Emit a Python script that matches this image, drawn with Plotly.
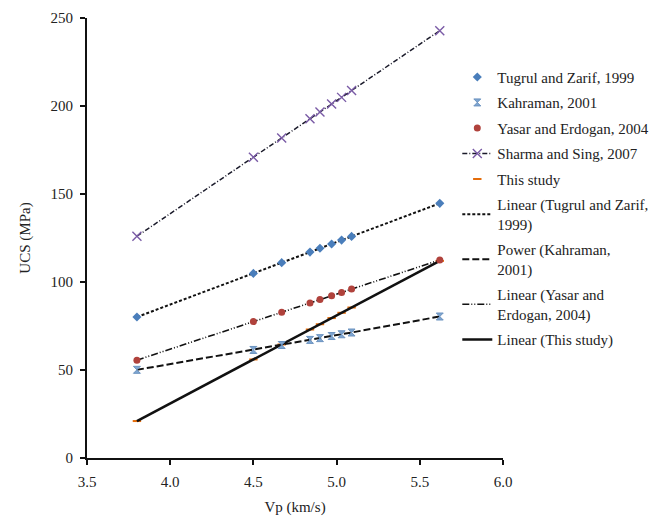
import plotly.graph_objects as go

# P-wave velocity (km/s) shared by all data sets
vp = [3.8, 4.5, 4.67, 4.84, 4.9, 4.97, 5.03, 5.09, 5.62]

# Uniaxial compressive strength (MPa)
ucs_tugrul = [80.1, 104.9, 111.0, 117.0, 119.2, 121.6, 123.8, 125.9, 144.7]
ucs_kahraman = [50.1, 61.4, 64.2, 67.1, 68.1, 69.3, 70.3, 71.3, 80.4]
ucs_yasar = [55.6, 77.5, 82.8, 88.1, 90.0, 92.2, 94.1, 96.0, 112.5]
ucs_sharma = [126.0, 170.9, 181.8, 192.7, 196.6, 201.1, 204.9, 208.8, 242.8]
ucs_this_study = [21.0, 56.0, 64.5, 73.0, 76.0, 79.5, 82.5, 85.5, 112.0]

x_ticks = [3.5, 4.0, 4.5, 5.0, 5.5, 6.0]
y_ticks = [0, 50, 100, 150, 200, 250]

FONT = "Liberation Serif, Times New Roman, serif"
FS = 15

fig = go.Figure()

# this study's points sit underneath its own trend line
fig.add_trace(go.Scatter(
    x=vp, y=ucs_this_study, mode="markers", name="This study",
    legendgroup="ts", legendrank=5,
    marker=dict(symbol="line-ew-open", size=6, color="#E46C0A",
                line=dict(color="#E46C0A", width=2)),
))

# trend lines
trends = [
    ("Linear (Tugrul and Zarif,<br>1999)", ucs_tugrul, "3px,2px", 2.0, 6),
    ("Power (Kahraman,<br>2001)", ucs_kahraman, "7px,3px", 2.0, 7),
    ("Linear (Yasar and<br>Erdogan, 2004)", ucs_yasar, "7px,2px,1px,2px,1px,2px", 1.6, 8),
    ("Linear (This study)", ucs_this_study, "solid", 2.6, 9),
]
for name, ys, dash, w, rank in trends:
    fig.add_trace(go.Scatter(
        x=vp, y=ys, mode="lines", name=name, legendgroup=name, legendrank=rank,
        line=dict(color="#111111", width=w, dash=dash),
    ))

# published data sets
fig.add_trace(go.Scatter(
    x=vp, y=ucs_tugrul, mode="markers", name="Tugrul and Zarif, 1999",
    legendgroup="tz", legendrank=1,
    marker=dict(symbol="diamond", size=7, color="#4A7EBB"),
))
fig.add_trace(go.Scatter(
    x=vp, y=ucs_kahraman, mode="markers", name="Kahraman, 2001",
    legendgroup="ka", legendrank=2,
    marker=dict(symbol="hourglass", size=7, color="#7FA6D1",
                line=dict(color="#6C93C0", width=1)),
))
fig.add_trace(go.Scatter(
    x=vp, y=ucs_yasar, mode="markers", name="Yasar and Erdogan, 2004",
    legendgroup="ye", legendrank=3,
    marker=dict(symbol="circle", size=7, color="#B0423C"),
))
fig.add_trace(go.Scatter(
    x=vp, y=ucs_sharma, mode="lines+markers", name="Sharma and Sing, 2007",
    legendgroup="ss", legendrank=4,
    line=dict(color="#1a1a2a", width=1.5, dash="5px,2px,1px,2px"),
    marker=dict(symbol="x-thin-open", size=9, color="#7A5BA6",
                line=dict(color="#7A5BA6", width=1.4)),
))

axis_common = dict(
    showgrid=False, zeroline=False, showline=True, linecolor="#111111",
    linewidth=2, ticks="outside", ticklen=5, tickwidth=1.5, tickcolor="#111111",
    tickfont=dict(family=FONT, size=FS, color="#222222"),
    automargin=False,
)

fig.update_layout(
    width=665, height=516,
    margin=dict(l=87, r=161, t=18, b=58),
    paper_bgcolor="white", plot_bgcolor="white",
    font=dict(family=FONT, size=FS, color="#222222"),
    xaxis=dict(range=[3.5, 6.0], tickvals=x_ticks, tickformat=".1f",
               ticklabelstandoff=4,
               title=dict(text="Vp (km/s)", standoff=12,
                          font=dict(family=FONT, size=FS)),
               **axis_common),
    yaxis=dict(range=[0, 250], tickvals=y_ticks, ticklabelstandoff=4,
               title=dict(text="UCS (MPa)", standoff=16,
                          font=dict(family=FONT, size=FS)),
               **axis_common),
    legend=dict(x=0.888, y=0.903, xanchor="left", yanchor="top",
                bgcolor="rgba(0,0,0,0)", borderwidth=0,
                itemwidth=30, tracegroupgap=3, traceorder="grouped",
                font=dict(family=FONT, size=FS, color="#222222")),
    showlegend=True,
)

fig.write_html("out.html")
